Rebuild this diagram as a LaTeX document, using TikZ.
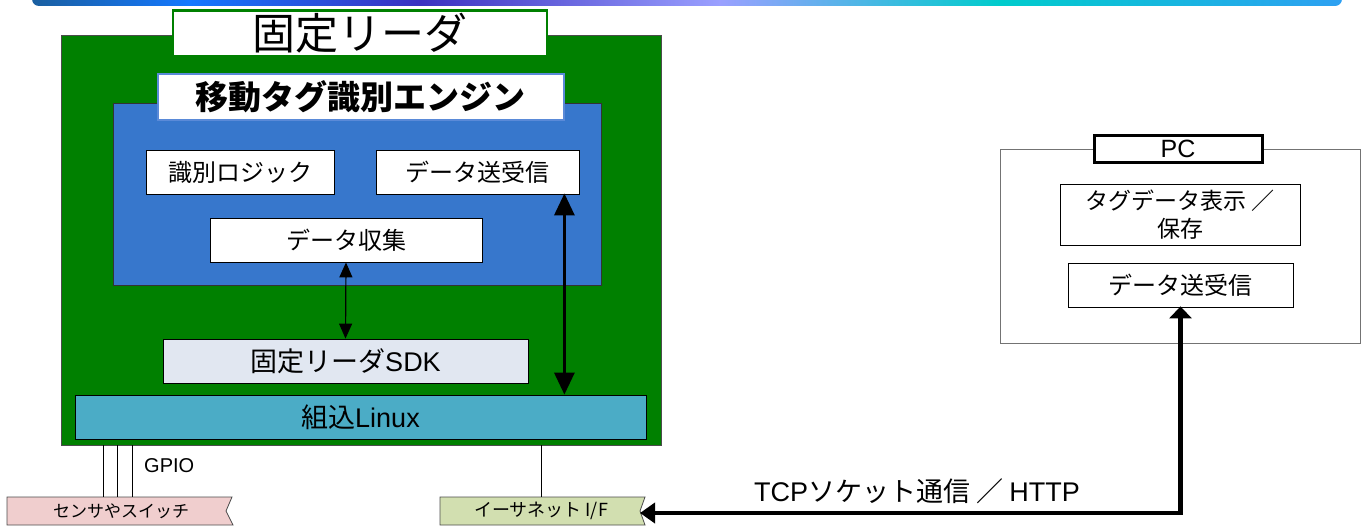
\documentclass[tikz,border=0pt]{standalone}
\usepackage{fontspec}
\setmainfont{Noto Sans CJK JP}
\newfontfamily\lat{Liberation Sans}
\usetikzlibrary{arrows.meta,calc}
\definecolor{rgreen}{HTML}{008000}
\definecolor{eblue}{HTML}{3777CC}
\definecolor{etitle}{HTML}{5A8AD8}
\definecolor{sdkfill}{HTML}{E1E7F1}
\definecolor{linuxfill}{HTML}{4BACC6}
\definecolor{pinkfill}{HTML}{F0CECE}
\definecolor{greenfill}{HTML}{D2DFB0}
\definecolor{gA}{HTML}{1A5FA0}
\definecolor{gB}{HTML}{1478FF}
\definecolor{gC}{HTML}{3B30C0}
\definecolor{gD}{HTML}{9AA0FF}
\definecolor{gE}{HTML}{00CCCC}
\definecolor{gF}{HTML}{2EA0F2}
\tikzset{
  fs/.style={font=\fontsize{#1}{#1}\selectfont},
  wbox/.style={draw=black, line width=0.8pt, fill=white, inner sep=0pt, fs=24},
  thinline/.style={draw=black, line width=0.9pt},
}
\begin{document}
\begin{tikzpicture}[x=1pt,y=-1pt]
\useasboundingbox (0,0) rectangle (1368,527);
% top banner
\begin{scope}
\clip[rounded corners=7pt] (32,-20) rectangle (1342,6);
\shade[left color=gA, right color=gB] (32,-20) rectangle (190,6);
\shade[left color=gB, right color=gC] (189.5,-20) rectangle (420,6);
\shade[left color=gC, right color=gD] (419.5,-20) rectangle (720,6);
\shade[left color=gD, right color=gE] (719.5,-20) rectangle (1000,6);
\shade[left color=gE, right color=gF] (999.5,-20) rectangle (1342,6);
\end{scope}

% fixed reader
\node[draw=black!70, line width=0.8pt, fill=rgreen, minimum width=600pt, minimum height=410pt, inner sep=0pt] (reader) at (361,240) {};
\node[draw=rgreen, line width=2.5pt, fill=white, minimum width=374pt, minimum height=46pt, inner sep=0pt, fs=43] (readertitle) at (360,33.5) {固定リーダ};

% engine
\node[draw=black!80, line width=0.8pt, fill=eblue, minimum width=488pt, minimum height=182pt, inner sep=0pt] (engine) at (357,194) {};
\node[draw=etitle, line width=2pt, fill=white, minimum width=406pt, minimum height=45pt, inner sep=0pt, font=\fontsize{33}{33}\selectfont\bfseries] (enginetitle) at (360.5,97) {移動タグ識別エンジン};

\node[wbox, minimum width=188pt, minimum height=44pt] (logic) at (240,172) {識別ロジック};
\node[wbox, minimum width=203pt, minimum height=44pt] (trx) at (477.5,172) {データ送受信};
\node[wbox, minimum width=272pt, minimum height=44pt] (collect) at (346,240) {データ収集};

\node[wbox, fill=sdkfill, minimum width=365pt, minimum height=44pt, fs=27] (sdk) at (345.5,361) {固定リーダ{\lat SDK}};
\node[wbox, fill=linuxfill, minimum width=571pt, minimum height=44pt, fs=27] (linux) at (360.5,417) {組込{\lat Linux}};

% arrows inside reader
\draw[line width=1.2pt, {Triangle[width=13pt,length=15pt]}-{Triangle[width=13pt,length=15pt]}] (collect.south) -- (sdk.north);
\draw[line width=3pt, {Triangle[width=20pt,length=22pt]}-{Triangle[width=20pt,length=22pt]}]
  ([xshift=-15pt,yshift=1pt]trx.south east) -- ([xshift=-15pt]trx.south east |- linux.north);

% bottom boxes
\draw[draw=black!70, line width=0.8pt, fill=pinkfill] (7,497) -- (232,497) -- (226,511) -- (233,525) -- (7,525) -- cycle;
\node[fs=17, inner sep=0pt] (sensor) at (121,511) {センサやスイッチ};
\coordinate (sensortop) at (120,497);
\draw[draw=black!70, line width=0.8pt, fill=greenfill] (440,497) -- (645,497) -- (640,511) -- (645,525) -- (440,525) -- cycle;
\node[fs=18, inner sep=0pt] (eth) at (541,511) {イーサネット I/F};
\coordinate (ethtop) at (541,497);
\coordinate (ethright) at (640,513);

% GPIO lines
\foreach \dx in {43,57,72}{
  \draw[thinline] ([xshift=\dx pt]reader.south west) -- ([xshift=\dx pt]reader.south west |- sensortop);
}
\node[font=\fontsize{20}{20}\selectfont\lat, anchor=west, inner sep=0pt] (gpio) at (144,466) {GPIO};
\draw[thinline] (reader.south -| ethtop) -- (ethtop);

% PC
\node[draw=black!55, line width=0.9pt, fill=white, minimum width=360pt, minimum height=194pt, inner sep=0pt] (pc) at (1180,246) {};
\node[draw=black, line width=3pt, fill=white, minimum width=168pt, minimum height=27pt, inner sep=0pt, font=\fontsize{25}{25}\selectfont\lat] (pctitle) at (1178,148.5) {PC};
\node[wbox, minimum width=240pt, minimum height=61pt, align=center, fs=23] (disp) at (1180,214.5) {タグデータ表示 ／\\[5pt]保存};
\node[wbox, minimum width=225pt, minimum height=44pt, fs=24] (pcrx) at (1180.5,285) {データ送受信};

% TCP link
\draw[line width=4.5pt, {Triangle[width=20pt,length=15pt]}-{Triangle[width=22pt,length=12pt]}]
  (ethright) -| ([yshift=1pt]pcrx.south);
\node[fs=27, inner sep=0pt] (tcp) at (917,491) {{\lat TCP}ソケット通信 ／ {\lat HTTP}};
\end{tikzpicture}
\end{document}
